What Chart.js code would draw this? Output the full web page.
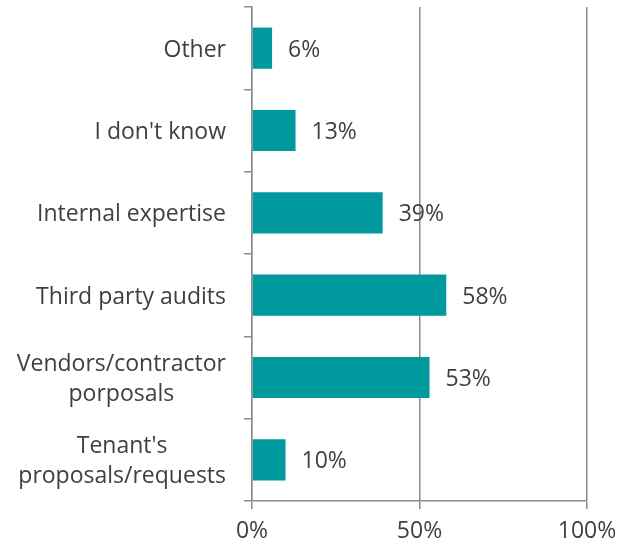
<!DOCTYPE html>
<html>
<head>
<meta charset="utf-8">
<script src="https://cdn.jsdelivr.net/npm/chart.js@4"></script>
<style>
  html, body { margin: 0; padding: 0; background: #fff; }
  #wrap { width: 618px; height: 548px; }
</style>
</head>
<body>
<div id="wrap"><canvas id="grafic"></canvas></div>
<script>
// dades
const categories = ['Other', "I don't know", 'Internal expertise', 'Third party audits',
  ['Vendors/contractor', 'porposals'], ["Tenant's", 'proposals/requests']];
const shares = [6, 13, 39, 58, 53, 10];
const tickLabels = ['0%', '50%', '100%'];

const FONT = '"Open Sans", sans-serif';
const FSIZE = 23;
const TEXT = '#404040';
const LINE = '#8c8c8c';

// etiquetes de l'eix Y centrades per bloc (com a l'original)
const etiquetesY = {
  id: 'etiquetesY',
  afterDraw(chart) {
    const ctx = chart.ctx;
    const y = chart.scales.y;
    const right = chart.chartArea.left - 26;
    ctx.save();
    ctx.font = FSIZE + 'px ' + FONT;
    ctx.fillStyle = TEXT;
    ctx.textAlign = 'center';
    ctx.textBaseline = 'middle';
    categories.forEach((lab, i) => {
      const lines = Array.isArray(lab) ? lab : [lab];
      const w = Math.max(...lines.map(l => ctx.measureText(l).width));
      const cx = right - w / 2;
      const cy = y.getPixelForValue(i) + 2;
      const lh = 30;
      lines.forEach((l, k) => {
        ctx.fillText(l, cx, cy - (lines.length - 1) * lh / 2 + k * lh);
      });
    });
    ctx.restore();
  }
};

// valors al final de cada barra
const valors = {
  id: 'valors',
  afterDatasetsDraw(chart) {
    const ctx = chart.ctx;
    const meta = chart.getDatasetMeta(0);
    ctx.save();
    ctx.font = FSIZE + 'px ' + FONT;
    ctx.fillStyle = TEXT;
    ctx.textAlign = 'left';
    ctx.textBaseline = 'middle';
    meta.data.forEach((bar, i) => {
      ctx.fillText(shares[i] + '%', bar.x + 16, bar.y + 2);
    });
    ctx.restore();
  }
};

new Chart(document.querySelector('#grafic'), {
  type: 'bar',
  data: {
    labels: categories,
    datasets: [{
      data: shares,
      backgroundColor: '#00999e',
      borderWidth: 0,
      categoryPercentage: 1,
      barPercentage: 0.5
    }]
  },
  options: {
    indexAxis: 'y',
    responsive: true,
    maintainAspectRatio: false,
    animation: false,
    layout: { padding: { top: 7, right: 0 } },
    plugins: { legend: { display: false }, tooltip: { enabled: false } },
    scales: {
      x: {
        min: 0, max: 100,
        ticks: {
          stepSize: 50,
          color: TEXT,
          font: { family: FONT, size: FSIZE },
          padding: 9,
          maxRotation: 0,
          callback: (v, i) => tickLabels[i]
        },
        grid: { color: LINE, lineWidth: 1.5, tickLength: 8 },
        border: { color: LINE, width: 1.5 },
        afterFit: s => { s.height = 47; s.paddingRight = 31; s.paddingLeft = 0; }
      },
      y: {
        ticks: { display: false },
        grid: { drawOnChartArea: false, color: LINE, lineWidth: 1.5, tickLength: 8, offset: true },
        border: { color: LINE, width: 1.5 },
        afterFit: s => { s.width = 252; }
      }
    }
  },
  plugins: [etiquetesY, valors]
});
</script>
</body>
</html>
